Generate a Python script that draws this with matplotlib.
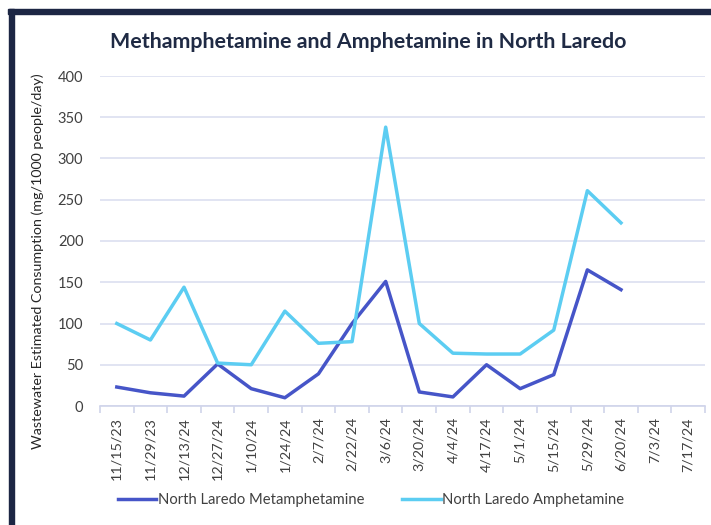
import matplotlib.pyplot as plt
from matplotlib.patches import Rectangle
import numpy as np

dates = ['11/15/23', '11/29/23', '12/13/24', '12/27/24', '1/10/24', '1/24/24', '2/7/24',
         '2/22/24', '3/6/24', '3/20/24', '4/4/24', '4/17/24', '5/1/24', '5/15/24',
         '5/29/24', '6/20/24', '7/3/24', '7/17/24']
meth = [23, 16, 12, 51, 21, 10, 39, 100, 151, 17, 11, 50, 21, 38, 165, 141, None, None]
amph = [100, 80, 144, 52, 50, 115, 76, 78, 338, 100, 64, 63, 63, 92, 261, 222, None, None]

plt.rcParams['font.family'] = ['Lato', 'DejaVu Sans']

fig = plt.figure(figsize=(7.11, 5.25), dpi=100)
ax = fig.add_axes([100 / 711, 1 - 406 / 525, 605 / 711, 330 / 525])

x = np.arange(len(dates))
meth_arr = np.array([np.nan if v is None else v for v in meth], dtype=float)
amph_arr = np.array([np.nan if v is None else v for v in amph], dtype=float)

ax.plot(x, meth_arr, color='#4655c8', lw=2.5, label='North Laredo Metamphetamine', solid_joinstyle='round')
ax.plot(x, amph_arr, color='#5ccdf2', lw=2.5, label='North Laredo Amphetamine', solid_joinstyle='round')

ax.set_xlim(-0.5, len(dates) - 0.5)
ax.set_ylim(0, 400)
ax.set_yticks(range(0, 401, 50))
ax.yaxis.grid(True, color='#dcdff0', lw=1.2)
ax.set_axisbelow(True)
for s in ['top', 'right', 'left']:
    ax.spines[s].set_visible(False)
ax.spines['bottom'].set_color('#d0d4ea')
ax.spines['bottom'].set_linewidth(1.2)

ax.set_xticks(x)
ax.set_xticklabels(dates, rotation=90, fontsize=10.3, color='#404040')
ax.set_xticks(np.arange(-0.5, len(dates), 1), minor=True)
ax.tick_params(axis='x', which='major', length=0, pad=8)
ax.tick_params(axis='x', which='minor', length=5, color='#d0d4ea', width=1.2)
ax.tick_params(axis='y', length=0, labelsize=10.5, labelcolor='#404040', pad=12)

ax.set_ylabel('Wastewater Estimated Consumption (mg/1000 people/day)', fontsize=10.3,
              color='#262626')
ax.yaxis.set_label_coords(-0.093, 0.44)

fig.text(368 / 711, 1 - 42 / 525, 'Methamphetamine and Amphetamine in North Laredo',
         ha='center', va='center', fontsize=15.4, fontweight='bold', color='#1f2a44')

fig.legend(loc='center', bbox_to_anchor=(371 / 711, 1 - 500 / 525), ncol=2, frameon=False,
           fontsize=10.6, handlelength=2.6, handletextpad=0.1, columnspacing=2.6,
           labelcolor='#404040')

# dark frame on top and left
fig.patches.append(Rectangle((8 / 711, 1 - 14 / 525), 1, 5 / 525, transform=fig.transFigure,
                             color='#1c2644', zorder=10))
fig.patches.append(Rectangle((9 / 711, 0), 5 / 711, 1 - 9 / 525, transform=fig.transFigure,
                             color='#1c2644', zorder=10))

fig.savefig('out.png', dpi=100)
